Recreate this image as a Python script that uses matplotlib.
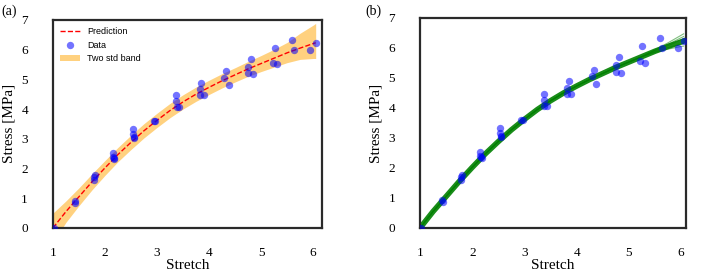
import numpy as np
import matplotlib.pyplot as plt

# measured data (stretch, stress)
stretch = [1.02, 1.42, 1.43, 1.79, 1.80, 1.79, 2.15, 2.15, 2.17, 2.18,
           2.54, 2.53, 2.55, 2.56, 2.94, 2.97, 3.37, 3.37, 3.38, 3.43,
           3.82, 3.85, 3.82, 3.90, 4.29, 4.33, 4.38, 4.75, 4.81, 4.75,
           4.85, 5.26, 5.22, 5.31, 5.59, 5.63, 5.95, 6.06]
stress = [0.0, 0.92, 0.85, 1.61, 1.78, 1.70, 2.53, 2.40, 2.36, 2.33,
          3.33, 3.17, 3.06, 3.04, 3.61, 3.61, 4.48, 4.28, 4.08, 4.06,
          4.67, 4.89, 4.48, 4.47, 5.06, 5.28, 4.81, 5.42, 5.69, 5.20,
          5.17, 6.06, 5.56, 5.50, 6.33, 6.00, 6.00, 6.22]

# prediction and band
grid = [1.0, 1.25, 1.5, 1.75, 2.0, 2.25, 2.5, 2.75, 3.0, 3.25, 3.5, 3.75,
        4.0, 4.25, 4.5, 4.75, 5.0, 5.25, 5.5, 5.75, 6.0, 6.05]
pred = [0.0, 0.55, 1.05, 1.55, 2.02, 2.47, 2.88, 3.27, 3.62, 3.95, 4.24, 4.5,
        4.73, 4.95, 5.15, 5.35, 5.53, 5.71, 5.89, 6.05, 6.2, 6.23]
band_up = [0.5, 0.36, 0.3, 0.27, 0.25, 0.24, 0.24, 0.24, 0.24, 0.24, 0.24, 0.24,
           0.24, 0.24, 0.24, 0.25, 0.27, 0.3, 0.35, 0.5, 0.62, 0.65]
band_lo = [0.5, 0.36, 0.3, 0.27, 0.25, 0.24, 0.24, 0.24, 0.24, 0.24, 0.24, 0.24,
           0.24, 0.24, 0.24, 0.25, 0.27, 0.3, 0.33, 0.38, 0.5, 0.53]

# posterior sample curves (right panel) differ only at the tail
tails = [[5.94, 6.17, 6.42, 6.47],
         [5.92, 6.12, 6.34, 6.38],
         [5.90, 6.08, 6.27, 6.31],
         [5.87, 6.01, 6.13, 6.15],
         [5.85, 5.96, 6.05, 6.06]]

serif = 'Liberation Serif'
pred = np.array(pred)
upper = pred + np.array(band_up)
lower = pred - np.array(band_lo)

fig = plt.figure(figsize=(7.06, 2.72), dpi=100)
ax1 = fig.add_axes([0.075, 0.162, 0.381, 0.765])
ax2 = fig.add_axes([0.595, 0.162, 0.377, 0.772])

ax1.fill_between(grid, lower, upper, color='orange', alpha=0.5, lw=0, label='Two std band')
ax1.plot(grid, pred, 'r--', lw=1, label='Prediction')
ax1.scatter(stretch, stress, s=28, color='blue', alpha=0.55, lw=0, label='Data', zorder=3)
h, l = ax1.get_legend_handles_labels()
ax1.legend([h[1], h[2], h[0]], [l[1], l[2], l[0]], loc='upper left', frameon=False,
           prop={'family': 'Liberation Sans', 'size': 6.5}, handlelength=2.2,
           borderaxespad=0.4, labelspacing=0.5)
ax1.set_xlim(1, 6.17)

for t in tails:
    ax2.plot(grid, list(pred[:18]) + t, color='green', lw=0.8, alpha=0.5)
ax2.plot(grid, pred, color='green', lw=4, alpha=0.9)
ax2.scatter(stretch, stress, s=28, color='blue', alpha=0.55, lw=0, zorder=3)
ax2.set_xlim(1, 6.1)

for ax, tag in [(ax1, '(a)'), (ax2, '(b)')]:
    ax.set_ylim(0, 7)
    ax.set_xticks([1, 2, 3, 4, 5, 6])
    ax.set_yticks(range(8))
    ax.tick_params(length=0, labelsize=9.5)
    ax.tick_params(axis='x', pad=14)
    ax.tick_params(axis='y', pad=18)
    for lab in ax.get_xticklabels() + ax.get_yticklabels():
        lab.set_family(serif)
    ax.set_xlabel('Stretch', family=serif, fontsize=11, labelpad=0)
    ax.set_ylabel('Stress [MPa]', family=serif, fontsize=11, labelpad=4)
    for sp in ax.spines.values():
        sp.set_linewidth(1.6)
        sp.set_color('#2a2a2a')

fig.text(0.002, 0.985, '(a)', family=serif, fontsize=10, va='top')
fig.text(0.518, 0.985, '(b)', family=serif, fontsize=10, va='top')

fig.savefig('out.png', dpi=100)
